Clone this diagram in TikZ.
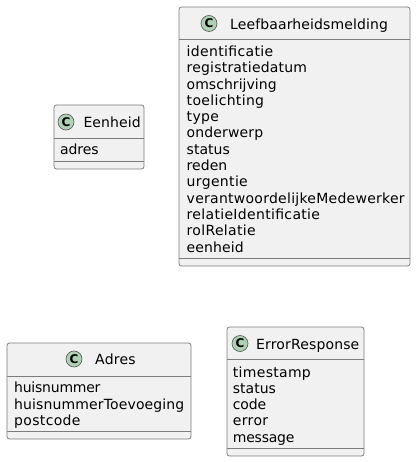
\documentclass[tikz,border=0pt]{standalone}
\usepackage{fontspec}
\setmainfont{DejaVu Sans}
\definecolor{boxfill}{HTML}{F1F1F1}
\definecolor{boxline}{HTML}{7C7C7C}
\definecolor{circline}{HTML}{555555}
\definecolor{circfill}{HTML}{ADD1B2}
\ExplSyntaxOn
\cs_new:Npn \mycharcount #1 { \str_count:n {#1} }
\ExplSyntaxOff
\newlength\mynatw
\newcommand\spreadtext[2]{%
  \settowidth\mynatw{#2}%
  \pgfmathsetmacro\mylsp{((#1 - \mynatw)/(\mycharcount{#2}))/14*100}%
  \edef\mydo{\noexpand\addfontfeatures{LetterSpace=\mylsp}}\mydo #2}
\tikzset{
  classbox/.style={draw=boxline, line width=0.8pt, fill=boxfill, rounded corners=2.5pt, anchor=north west, inner sep=0pt, outer sep=0pt},
  sepline/.style={draw=boxline, line width=0.8pt},
  badge/.style={circle, draw=circline, line width=0.6pt, fill=circfill, minimum size=16pt, inner sep=0pt, font=\fontsize{12}{12}\selectfont\bfseries},
  ctitle/.style={anchor=west, inner sep=0pt, text height=11pt, text depth=0pt, font=\fontsize{14}{16}\selectfont},
  cattr/.style={anchor=west, inner sep=0pt, text height=11pt, text depth=0pt, font=\fontsize{14}{16}\selectfont},
}
\begin{document}
\begin{tikzpicture}[x=1pt,y=-1pt]
\useasboundingbox (0,0) rectangle (416,462);

% Eenheid
\node[classbox, minimum width=90pt, minimum height=64pt] (eenheid) at (54,105) {};
\draw[sepline] (54,138) -- (144,138);
\draw[sepline] (54,161) -- (144,161);
\node[badge] (eenheidC) at (66,122) {C};
\node[ctitle] (eenheidT) at (83.3,122.2) {\spreadtext{57.3}{Eenheid}};
\node[cattr] (eenheidA1) at (60,148.8) {\spreadtext{38.3}{adres}};

% Leefbaarheidsmelding
\node[classbox, minimum width=231pt, minimum height=259pt] (leef) at (179,7) {};
\draw[sepline] (179,39.5) -- (410,39.5);
\draw[sepline] (179,258) -- (410,258);
\node[badge] (leefC) at (209,23.5) {C};
\node[ctitle] (leefT) at (230,23.8) {\spreadtext{158}{Leefbaarheidsmelding}};
\node[cattr] (leefA1) at (186.5,51.0) {\spreadtext{87.3}{identificatie}};
\node[cattr] (leefA2) at (186.5,67.3) {\spreadtext{120.6}{registratiedatum}};
\node[cattr] (leefA3) at (186.5,83.6) {\spreadtext{90}{omschrijving}};
\node[cattr] (leefA4) at (186.5,99.9) {\spreadtext{77.7}{toelichting}};
\node[cattr] (leefA5) at (186.5,116.2) {\spreadtext{32.7}{type}};
\node[cattr] (leefA6) at (186.5,132.5) {\spreadtext{76.7}{onderwerp}};
\node[cattr] (leefA7) at (186.5,148.8) {\spreadtext{43.3}{status}};
\node[cattr] (leefA8) at (186.5,165.1) {\spreadtext{40.7}{reden}};
\node[cattr] (leefA9) at (186.5,181.4) {\spreadtext{61.5}{urgentie}};
\node[cattr] (leefA10) at (186.5,197.7) {\spreadtext{218.3}{verantwoordelijkeMedewerker}};
\node[cattr] (leefA11) at (186.5,214.0) {\spreadtext{134}{relatieIdentificatie}};
\node[cattr] (leefA12) at (186.5,230.3) {\spreadtext{69.3}{rolRelatie}};
\node[cattr] (leefA13) at (186.5,246.6) {\spreadtext{57.3}{eenheid}};

% Adres
\node[classbox, minimum width=184pt, minimum height=96pt] (adres) at (7,343) {};
\draw[sepline] (7,376) -- (191,376);
\draw[sepline] (7,431) -- (191,431);
\node[badge] (adresC) at (74,359) {C};
\node[ctitle] (adresT) at (95,358.8) {\spreadtext{40.7}{Adres}};
\node[cattr] (adresA1) at (14,387.2) {\spreadtext{86}{huisnummer}};
\node[cattr] (adresA2) at (14,403.5) {\spreadtext{170.3}{huisnummerToevoeging}};
\node[cattr] (adresA3) at (14,419.8) {\spreadtext{66.7}{postcode}};

% ErrorResponse
\node[classbox, minimum width=137pt, minimum height=129pt] (error) at (227,327) {};
\draw[sepline] (227,359) -- (364,359);
\draw[sepline] (227,448) -- (364,448);
\node[badge] (errorC) at (240,343.5) {C};
\node[ctitle] (errorT) at (256,343.8) {\spreadtext{103.3}{ErrorResponse}};
\node[cattr] (errorA1) at (232.7,371.5) {\spreadtext{78.3}{timestamp}};
\node[cattr] (errorA2) at (232.7,387.8) {\spreadtext{43}{status}};
\node[cattr] (errorA3) at (232.7,404.1) {\spreadtext{33}{code}};
\node[cattr] (errorA4) at (232.7,420.4) {\spreadtext{35.7}{error}};
\node[cattr] (errorA5) at (232.7,436.7) {\spreadtext{61.3}{message}};
\end{tikzpicture}
\end{document}
